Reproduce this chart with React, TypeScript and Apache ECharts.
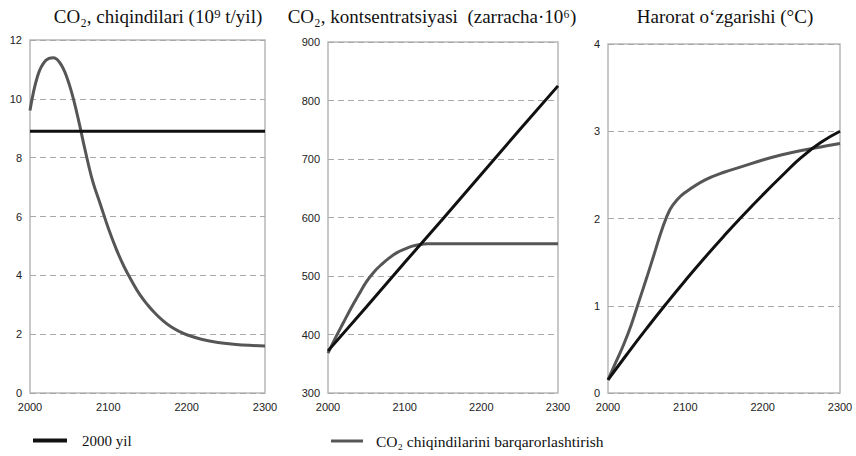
import React, { useEffect, useRef } from "react";
import * as echarts from "echarts";

// Panel 1: CO2 emissions
const p1BlackYears = [2000, 2300];
const p1BlackValues = [8.9, 8.9];
const p1GrayYears = [2000, 2010, 2020, 2030, 2040, 2050, 2060, 2070, 2080, 2090, 2100, 2110, 2120, 2130, 2140, 2150, 2160, 2170, 2180, 2190, 2200, 2220, 2240, 2260, 2280, 2300];
const p1GrayValues = [9.6, 10.8, 11.3, 11.4, 11.15, 10.5, 9.5, 8.3, 7.2, 6.4, 5.6, 4.9, 4.3, 3.8, 3.35, 3.0, 2.7, 2.45, 2.25, 2.1, 1.98, 1.82, 1.72, 1.66, 1.62, 1.6];

// Panel 2: CO2 concentration
const p2BlackYears = [2000, 2050, 2100, 2150, 2200, 2250, 2300];
const p2BlackValues = [372, 447, 523, 598, 674, 750, 825];
const p2GrayYears = [2000, 2010, 2020, 2030, 2040, 2050, 2060, 2070, 2080, 2090, 2100, 2110, 2120, 2130, 2200, 2300];
const p2GrayValues = [368, 395, 420, 445, 468, 490, 507, 520, 531, 540, 546, 551, 554, 555, 555, 555];

// Panel 3: temperature change
const p3BlackYears = [2000, 2025, 2050, 2075, 2100, 2125, 2150, 2175, 2200, 2225, 2250, 2275, 2300];
const p3BlackValues = [0.15, 0.45, 0.74, 1.02, 1.29, 1.55, 1.8, 2.04, 2.27, 2.49, 2.7, 2.87, 3.0];
const p3GrayYears = [2000, 2010, 2020, 2030, 2040, 2050, 2060, 2070, 2080, 2090, 2100, 2125, 2150, 2175, 2200, 2225, 2250, 2275, 2300];
const p3GrayValues = [0.15, 0.35, 0.55, 0.78, 1.05, 1.32, 1.6, 1.88, 2.1, 2.22, 2.3, 2.44, 2.53, 2.6, 2.67, 2.73, 2.78, 2.82, 2.86];

const titles = [
  "CO₂, chiqindilari (10⁹ t/yil)",
  "CO₂, kontsentratsiyasi  (zarracha·10⁶)",
  "Harorat o‘zgarishi (°C)",
];
const seriesNames = ["2000 yil", "CO₂ chiqindilarini barqarorlashtirish"];
const xMin = 2000;
const xMax = 2300;
const xInterval = 100;
const yRanges = [
  { min: 0, max: 12, interval: 2 },
  { min: 300, max: 900, interval: 100 },
  { min: 0, max: 4, interval: 1 },
];

const BLACK = "#111111";
const GRAY = "#565656";
const SERIF = "'Liberation Serif', 'DejaVu Serif', serif";
const SANS = "'Liberation Sans', 'DejaVu Sans', sans-serif";

const pairs = (xs: number[], ys: number[]) => xs.map((x, i) => [x, ys[i]]);

export default function App() {
  const ref = useRef<HTMLDivElement>(null);
  useEffect(() => {
    if (!ref.current) return;
    const chart = echarts.init(ref.current, undefined, { renderer: "svg" });
    const grids = [
      { left: 30, top: 40, width: 235, height: 353 },
      { left: 328, top: 42, width: 230, height: 351 },
      { left: 608, top: 44, width: 232, height: 349 },
    ];
    const titlePos = [
      { x: 158, y: 16 },
      { x: 432, y: 16 },
      { x: 725, y: 16 },
    ];
    const data = [
      [pairs(p1BlackYears, p1BlackValues), pairs(p1GrayYears, p1GrayValues)],
      [pairs(p2BlackYears, p2BlackValues), pairs(p2GrayYears, p2GrayValues)],
      [pairs(p3BlackYears, p3BlackValues), pairs(p3GrayYears, p3GrayValues)],
    ];
    const series: any[] = [];
    data.forEach((d, i) => {
      series.push({
        type: "line",
        name: seriesNames[0],
        xAxisIndex: i,
        yAxisIndex: i,
        data: d[0],
        smooth: i === 2 ? 0.5 : false,
        showSymbol: false,
        lineStyle: { color: BLACK, width: 3 },
        itemStyle: { color: BLACK },
        z: 3,
      });
      series.push({
        type: "line",
        name: seriesNames[1],
        xAxisIndex: i,
        yAxisIndex: i,
        data: d[1],
        smooth: 0.4,
        showSymbol: false,
        lineStyle: { color: GRAY, width: 3 },
        itemStyle: { color: GRAY },
        z: 2,
      });
    });
    chart.setOption({
      animation: false,
      backgroundColor: "#ffffff",
      grid: grids.map((g) => ({
        ...g,
        show: true,
        borderColor: "#b8b8b8",
        borderWidth: 1.5,
        backgroundColor: "transparent",
      })),
      xAxis: grids.map((_, i) => ({
        type: "value",
        gridIndex: i,
        min: xMin,
        max: xMax,
        interval: xInterval,
        axisLine: { show: false },
        axisTick: { show: false },
        splitLine: { show: false },
        axisLabel: {
          color: "#222",
          fontSize: 11,
          fontFamily: SANS,
          margin: 8,
          formatter: (v: number) => String(v),
        },
      })),
      yAxis: grids.map((_, i) => ({
        type: "value",
        gridIndex: i,
        min: yRanges[i].min,
        max: yRanges[i].max,
        interval: yRanges[i].interval,
        axisLine: { show: false },
        axisTick: { show: false },
        splitLine: { show: true, lineStyle: { color: "#a8a8a8", type: [6, 4], width: 1 } },
        axisLabel: { color: "#222", fontSize: 11, fontFamily: SANS, margin: 8 },
      })),
      legend: [
        {
          data: [seriesNames[0]],
          left: 28,
          top: 428,
          icon: "rect",
          itemWidth: 34,
          itemHeight: 4,
          textStyle: { fontFamily: SERIF, fontSize: 15, color: "#111", padding: [0, 0, 0, 10] },
        },
        {
          data: [seriesNames[1]],
          left: 326,
          top: 428,
          icon: "rect",
          itemWidth: 32,
          itemHeight: 3,
          textStyle: { fontFamily: SERIF, fontSize: 15.5, color: "#111", padding: [0, 0, 0, 8] },
        },
      ],
      graphic: titles.map((t, i) => ({
        type: "text",
        x: titlePos[i].x,
        y: titlePos[i].y,
        style: {
          text: t,
          textAlign: "center",
          textVerticalAlign: "middle",
          font: `19px ${SERIF}`,
          fill: "#111",
        },
      })),
      series,
    });
    return () => chart.dispose();
  }, []);
  return (
    <div
      ref={ref}
      style={{ position: "absolute", left: 0, top: 0, width: 856, height: 456 }}
    />
  );
}
